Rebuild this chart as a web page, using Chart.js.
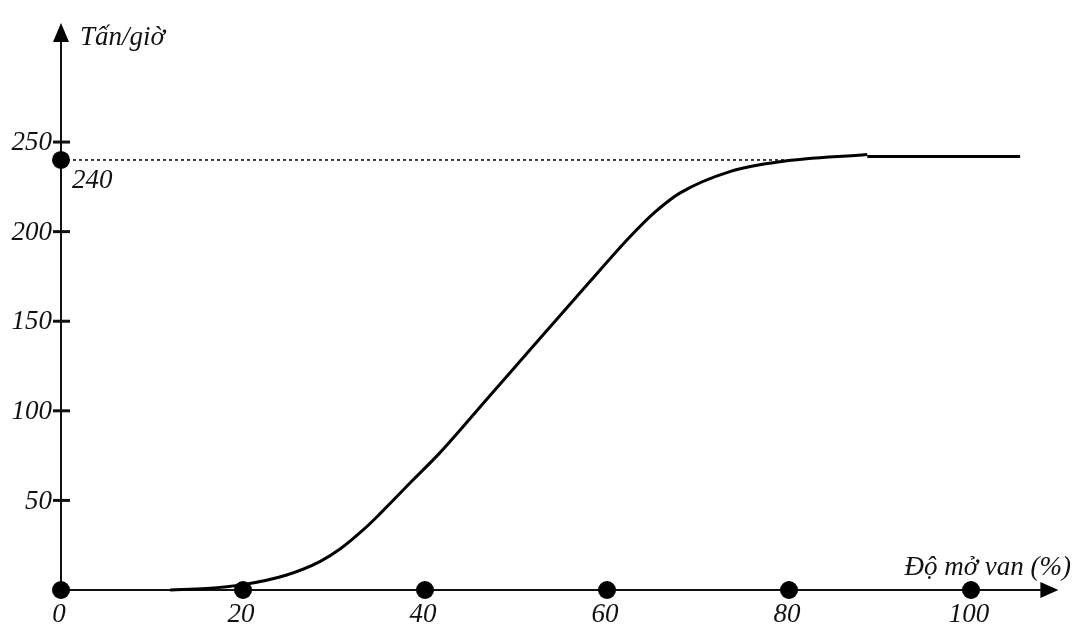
<!DOCTYPE html>
<html>
<head>
<meta charset="utf-8">
<script src="https://cdn.jsdelivr.net/npm/chart.js@4.4.1/dist/chart.umd.min.js"></script>
<style>
  html, body { margin: 0; padding: 0; background: #fff; }
  #wrap { width: 1080px; height: 643px; position: relative; }
</style>
</head>
<body>
<div id="wrap"><canvas id="c" width="1080" height="643"></canvas></div>
<script>
// ---- Data ----
const valveOpening = [12, 16, 20, 24.8, 28.5, 30.7, 33.2, 35.1, 38.7, 41.6, 47.1, 52.6, 58.1, 62.5, 65.3, 68.0, 73.5, 79.0, 88.6];
const flowRate     = [0, 0.8, 3, 8.4, 16, 23, 33.5, 42.8, 61.5, 76.4, 108.3, 140.2, 172, 197, 211, 221.5, 233.5, 239, 243];
const plateauX     = [88.6, 105.4];
const plateauY     = [242, 242];
const xTickValues  = [0, 20, 40, 60, 80, 100];
const xTickLabels  = ['0', '20', '40', '60', '80', '100'];
const yTickValues  = [50, 100, 150, 200, 250];
const yTickLabels  = ['50', '100', '150', '200', '250'];
const markedFlow   = 240;
const markedLabel  = '240';
const dashedEndX   = 81;
const yAxisTitle   = 'Tấn/giờ';
const xAxisTitle   = 'Độ mở van (%)';

const FONT = 'italic 27px "Liberation Serif", "Times New Roman", serif';

const curveData = valveOpening.map((x, i) => ({ x, y: flowRate[i] }));
const plateauData = plateauX.map((x, i) => ({ x, y: plateauY[i] }));
const dotData = xTickValues.map(x => ({ x, y: 0 })).concat([{ x: 0, y: markedFlow }]);
const dashData = [{ x: 0, y: markedFlow }, { x: dashedEndX, y: markedFlow }];

const axesPlugin = {
  id: 'axesPlugin',
  beforeDatasetsDraw(chart) {
    const { ctx, scales: { x, y } } = chart;
    const x0 = x.getPixelForValue(0), y0 = y.getPixelForValue(0);
    const xEnd = x.getPixelForValue(109.6), yEnd = y.getPixelForValue(316.5);
    ctx.save();
    ctx.strokeStyle = '#111';
    ctx.fillStyle = '#000';
    ctx.lineWidth = 2;
    // y axis
    ctx.beginPath(); ctx.moveTo(x0, y0); ctx.lineTo(x0, yEnd + 15); ctx.stroke();
    ctx.beginPath(); ctx.moveTo(x0, yEnd); ctx.lineTo(x0 - 8, yEnd + 19); ctx.lineTo(x0 + 8, yEnd + 19); ctx.closePath(); ctx.fill();
    // x axis
    ctx.beginPath(); ctx.moveTo(x0, y0); ctx.lineTo(xEnd - 15, y0); ctx.stroke();
    ctx.beginPath(); ctx.moveTo(xEnd, y0); ctx.lineTo(xEnd - 18, y0 - 8); ctx.lineTo(xEnd - 18, y0 + 8); ctx.closePath(); ctx.fill();
    // y tick marks
    ctx.lineWidth = 3;
    yTickValues.forEach(v => {
      const py = y.getPixelForValue(v);
      ctx.beginPath(); ctx.moveTo(x0 - 8, py); ctx.lineTo(x0 + 9, py); ctx.stroke();
    });
    ctx.restore();
  },
  afterDraw(chart) {
    const { ctx, scales: { x, y } } = chart;
    const x0 = x.getPixelForValue(0), y0 = y.getPixelForValue(0);
    ctx.save();
    ctx.fillStyle = '#111';
    ctx.font = FONT;
    ctx.textBaseline = 'middle';
    // y labels
    ctx.textAlign = 'right';
    yTickValues.forEach((v, i) => {
      ctx.fillText(yTickLabels[i], x0 - 9, y.getPixelForValue(v) + 1);
    });
    // x labels
    ctx.textAlign = 'center';
    xTickValues.forEach((v, i) => {
      ctx.fillText(xTickLabels[i], x.getPixelForValue(v) - 2, y0 + 25);
    });
    // marked value
    ctx.textAlign = 'left';
    ctx.fillText(markedLabel, x0 + 11, y.getPixelForValue(markedFlow) + 21);
    // axis titles
    ctx.fillText(yAxisTitle, x0 + 19, 38);
    ctx.textAlign = 'right';
    ctx.fillText(xAxisTitle, 1071, y0 - 22);
    ctx.restore();
  }
};

new Chart(document.getElementById('c'), {
  type: 'line',
  data: {
    datasets: [
      { data: dotData, showLine: false, pointRadius: 9, pointBackgroundColor: '#000', pointBorderWidth: 0, order: 0, clip: false },
      { data: curveData, borderColor: '#000', borderWidth: 3, pointRadius: 0, cubicInterpolationMode: 'monotone', order: 1, clip: false },
      { data: plateauData, borderColor: '#000', borderWidth: 3, pointRadius: 0, order: 2, clip: false },
      { data: dashData, borderColor: '#000', borderWidth: 1.5, borderDash: [3, 3], pointRadius: 0, order: 3, clip: false }
    ]
  },
  options: {
    responsive: false,
    animation: false,
    layout: { padding: { left: 61, right: 18, top: 22, bottom: 53 } },
    plugins: { legend: { display: false }, tooltip: { enabled: false } },
    scales: {
      x: { type: 'linear', min: 0, max: 110, display: false },
      y: { type: 'linear', min: 0, max: 317, display: false }
    }
  },
  plugins: [axesPlugin]
});
</script>
</body>
</html>
